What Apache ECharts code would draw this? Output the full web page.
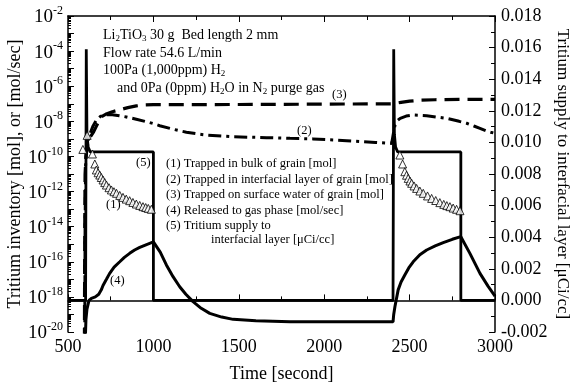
<!DOCTYPE html>
<html><head><meta charset="utf-8">
<script src="https://cdn.jsdelivr.net/npm/echarts@6/dist/echarts.min.js"></script>
<style>html,body{margin:0;padding:0;background:#fff}#c{width:574px;height:383px}</style>
</head><body><div id="c"></div>
<script>
// Time axis
const xMin = 500, xMax = 3000;
// Left axis exponents (log10 of mol or mol/sec)
const leftExpMin = -20, leftExpMax = -2;
const leftLabelExps = [-20, -18, -16, -14, -12, -10, -8, -6, -4, -2];
// Right axis (uCi/cc)
const rightMin = -0.002, rightMax = 0.018;

// (1) Trapped in bulk of grain [mol] : [time, log10 value]
const bulkGrain = [
  [587,-9.6],[612,-8.8],[643,-9.86],[657,-10.43],[666,-10.77],[676,-10.93],[686,-11.06],[695,-11.2],
  [705,-11.34],[715,-11.49],[725,-11.63],[740,-11.78],[754,-11.91],[769,-12.01],[784,-12.1],
  [803,-12.22],[822,-12.33],[841,-12.43],[861,-12.52],[880,-12.62],[900,-12.71],[920,-12.79],
  [939,-12.86],[955,-12.91],[970,-12.96],[988,-13.01],
  [2443,-9.92],[2459,-10.43],[2472,-10.87],[2482,-11.07],[2492,-11.25],[2502,-11.4],[2512,-11.53],
  [2526,-11.68],[2541,-11.82],[2560,-11.97],[2580,-12.1],[2605,-12.25],[2629,-12.39],[2653,-12.51],
  [2677,-12.63],[2700,-12.73],[2718,-12.8],[2736,-12.86],[2755,-12.94],[2775,-13.01],[2795,-13.09]
];
// (2) Trapped in interfacial layer of grain [mol]
const interfacial = [
  [500,-21],[598,-21],[600,-14],[603,-10.5],[610,-9.5],[625,-8.8],[645,-8.3],[665,-7.95],[690,-7.72],
  [720,-7.62],[760,-7.62],[800,-7.68],[842,-7.75],[900,-7.88],[950,-8.0],[1000,-8.13],[1037,-8.25],
  [1115,-8.45],[1193,-8.62],[1260,-8.72],[1311,-8.78],[1467,-8.88],[1662,-8.93],[1800,-8.97],
  [1934,-9.0],[2131,-9.1],[2300,-9.2],[2395,-9.26],[2400,-9.2],[2405,-8.7],[2415,-8.2],[2430,-7.95],
  [2445,-7.83],[2480,-7.7],[2520,-7.64],[2600,-7.68],[2717,-7.83],[2790,-8.0],[2834,-8.11],
  [2880,-8.28],[2912,-8.4],[2950,-8.55],[2975,-8.62],[3000,-8.68]
];
// (3) Trapped on surface water of grain [mol]
const surfaceWater = [
  [500,-21],[596,-21],[598,-14],[600,-11],[605,-10],[615,-9.3],[630,-8.9],[650,-8.6],[665,-8.3],
  [680,-8.0],[695,-7.74],[720,-7.6],[760,-7.45],[800,-7.35],[850,-7.22],[900,-7.12],[950,-7.07],
  [1000,-7.05],[1500,-7.04],[2000,-7.02],[2400,-7.0],[2450,-6.92],[2500,-6.85],[2560,-6.8],
  [2650,-6.77],[2800,-6.75],[3000,-6.75]
];
// (4) Released to gas phase [mol/sec]
const released = [
  [500,-21],[600,-21],[602,-20.2],[605,-19.3],[611,-18.7],[623,-18.2],[637,-18.08],[660,-18.0],
  [680,-17.85],[695,-17.6],[705,-17.35],[725,-17.0],[744,-16.66],[770,-16.3],[803,-16.0],
  [830,-15.75],[861,-15.52],[890,-15.33],[920,-15.18],[960,-15.02],[1000,-14.87],[1040,-15.45],
  [1076,-16.18],[1115,-16.85],[1154,-17.42],[1190,-17.85],[1232,-18.27],[1280,-18.65],
  [1330,-18.94],[1400,-19.15],[1467,-19.28],[1600,-19.36],[1800,-19.41],[2000,-19.42],
  [2403,-19.42],[2407,-19.0],[2414,-18.56],[2433,-17.6],[2450,-17.15],[2472,-16.75],[2495,-16.35],
  [2521,-16.0],[2560,-15.6],[2600,-15.33],[2650,-15.1],[2697,-14.91],[2750,-14.72],[2800,-14.57],
  [2853,-15.52],[2912,-16.66],[2960,-17.4],[3000,-17.95]
];
// (5) Tritium supply to interfacial layer [uCi/cc]
const supply = [
  [500,0],[603,0],[607,0.0159],[611,0.0105],[618,0.0097],[630,0.0094],[1000,0.0094],[1000,0],
  [2403,0],[2407,0.0159],[2411,0.0105],[2418,0.0097],[2430,0.0094],[2800,0.0094],[2800,0],[3000,0]
];

const FONT = 'Liberation Serif';
const majorExps = [];
for (let e = leftExpMin; e <= leftExpMax; e++) majorExps.push(e);
const minorExps = [];
for (let e = leftExpMin; e < leftExpMax; e++) for (let k = 2; k <= 9; k++) minorExps.push(e + Math.log10(k));

const chart = echarts.init(document.getElementById('c'), null, {renderer: 'canvas'});
const tickStyle = {color: '#000', width: 1};
const subRich = {
  a: {fontFamily: FONT, fontSize: 14, fill: '#000', lineHeight: 17},
  u: {fontFamily: FONT, fontSize: 9, fill: '#000', lineHeight: 17, verticalAlign: 'bottom', padding: [6,0,0,0]}
};
const LF = '12.5px ' + FONT;
const option = {
  animation: false,
  backgroundColor: '#fff',
  textStyle: {fontFamily: FONT, color: '#000'},
  grid: {left: 68, right: 79, top: 16, bottom: 51, containLabel: false, outerBoundsMode: 'none'},
  xAxis: [{
    type: 'value', min: xMin, max: xMax, interval: 500, position: 'bottom',
    name: 'Time [second]', nameLocation: 'middle', nameGap: 33, nameMoveOverlap: false,
    nameTextStyle: {fontFamily: FONT, fontSize: 18, color: '#000'},
    axisLine: {lineStyle: {color: '#000', width: 1.5}},
    axisTick: {inside: true, length: 6, lineStyle: tickStyle},
    minorTick: {show: true, splitNumber: 2, length: 4, lineStyle: tickStyle},
    axisLabel: {fontFamily: FONT, fontSize: 18, color: '#000', margin: 6, formatter: v => String(v)},
    splitLine: {show: false}
  }, {
    type: 'value', min: xMin, max: xMax, interval: 500, position: 'top',
    axisLine: {lineStyle: {color: '#000', width: 1.5}},
    axisTick: {inside: true, length: 6, lineStyle: tickStyle},
    minorTick: {show: true, splitNumber: 2, length: 4, lineStyle: tickStyle},
    axisLabel: {show: false}, splitLine: {show: false}
  }],
  yAxis: [{
    type: 'value', min: leftExpMin, max: leftExpMax, interval: 2, position: 'left',
    name: 'Tritium inventory [mol], or [mol/sec]', nameLocation: 'middle', nameGap: 44, nameMoveOverlap: false,
    nameTextStyle: {fontFamily: FONT, fontSize: 18, color: '#000'},
    axisLine: {show: true, lineStyle: {color: '#000', width: 1.5}},
    axisTick: {inside: true, length: 6, lineStyle: tickStyle, customValues: majorExps},
    axisLabel: {
      customValues: leftLabelExps, margin: 5,
      formatter: v => '{b|10}{s|' + v + '}',
      rich: {
        b: {fontFamily: FONT, fontSize: 19, color: '#000', lineHeight: 22, verticalAlign: 'bottom'},
        s: {fontFamily: FONT, fontSize: 12, color: '#000', lineHeight: 22, verticalAlign: 'top', padding: [0,0,8,0]}
      }
    },
    splitLine: {show: false}
  }, {
    type: 'value', min: rightMin, max: rightMax, interval: 0.002, position: 'right',
    name: 'Tritium supply to interfacial layer [\u03bcCi/cc]', nameLocation: 'middle', nameGap: 59, nameRotate: -90, nameMoveOverlap: false,
    nameTextStyle: {fontFamily: FONT, fontSize: 17, color: '#000'},
    axisLine: {show: true, lineStyle: {color: '#000', width: 1.5}},
    axisTick: {inside: true, length: 6, lineStyle: tickStyle},
    minorTick: {show: true, splitNumber: 2, length: 4, lineStyle: tickStyle},
    axisLabel: {fontFamily: FONT, fontSize: 18, color: '#000', margin: 6, formatter: v => v.toFixed(3)},
    splitLine: {show: false}
  }, {
    type: 'value', min: leftExpMin, max: leftExpMax, interval: 2, position: 'left',
    axisLine: {show: false},
    axisTick: {show: true, inside: true, length: 3, lineStyle: tickStyle, customValues: minorExps},
    axisLabel: {show: false}, splitLine: {show: false}
  }],
  graphic: [
    {type: 'text', left: 103, top: 28, style: {text: '{a|Li}{u|2}{a|TiO}{u|3}{a| 30 g  Bed length 2 mm}', rich: subRich}},
    {type: 'text', left: 103, top: 46, style: {text: 'Flow rate 54.6 L/min', font: '14px ' + FONT, fill: '#000'}},
    {type: 'text', left: 103, top: 63, style: {text: '{a|100Pa (1,000ppm) H}{u|2}', rich: subRich}},
    {type: 'text', left: 117, top: 81, style: {text: '{a|and 0Pa (0ppm) H}{u|2}{a|O in N}{u|2}{a| purge gas}', rich: subRich}},
    {type: 'text', left: 332, top: 88, style: {text: '(3)', font: LF, fill: '#000'}},
    {type: 'text', left: 297, top: 124, style: {text: '(2)', font: LF, fill: '#000'}},
    {type: 'text', left: 136, top: 156, style: {text: '(5)', font: LF, fill: '#000'}},
    {type: 'text', left: 106, top: 198, style: {text: '(1)', font: LF, fill: '#000'}},
    {type: 'text', left: 110, top: 274, style: {text: '(4)', font: LF, fill: '#000'}},
    {type: 'text', left: 166, top: 156, style: {
      text: '(1) Trapped in bulk of grain [mol]\n(2) Trapped in interfacial layer of grain [mol]\n(3) Trapped on surface water of grain [mol]\n(4) Released to gas phase [mol/sec]\n(5) Tritium supply to',
      font: LF, fill: '#000', lineHeight: 15.5}},
    {type: 'text', left: 211, top: 233, style: {text: 'interfacial layer [\u03bcCi/cc]', font: LF, fill: '#000'}}
  ],
  series: [
    {name: '(1)', type: 'scatter', xAxisIndex: 0, yAxisIndex: 0, data: bulkGrain, symbol: 'triangle', symbolSize: 8,
     itemStyle: {color: '#fff', borderColor: '#000', borderWidth: 1}, z: 5},
    {name: '(2)', type: 'line', xAxisIndex: 0, yAxisIndex: 0, data: interfacial, showSymbol: false, clip: true,
     lineStyle: {color: '#000', width: 3, type: [13, 5, 3, 5]}},
    {name: '(3)', type: 'line', xAxisIndex: 0, yAxisIndex: 0, data: surfaceWater, showSymbol: false, clip: true,
     lineStyle: {color: '#000', width: 3.2, type: [15, 8]}},
    {name: '(4)', type: 'line', xAxisIndex: 0, yAxisIndex: 0, data: released, showSymbol: false, clip: true,
     lineStyle: {color: '#000', width: 3}},
    {name: '(5)', type: 'line', xAxisIndex: 0, yAxisIndex: 1, data: supply, showSymbol: false, clip: true,
     lineStyle: {color: '#000', width: 2.8}}
  ]
};
chart.setOption(option);
</script>
</body></html>
